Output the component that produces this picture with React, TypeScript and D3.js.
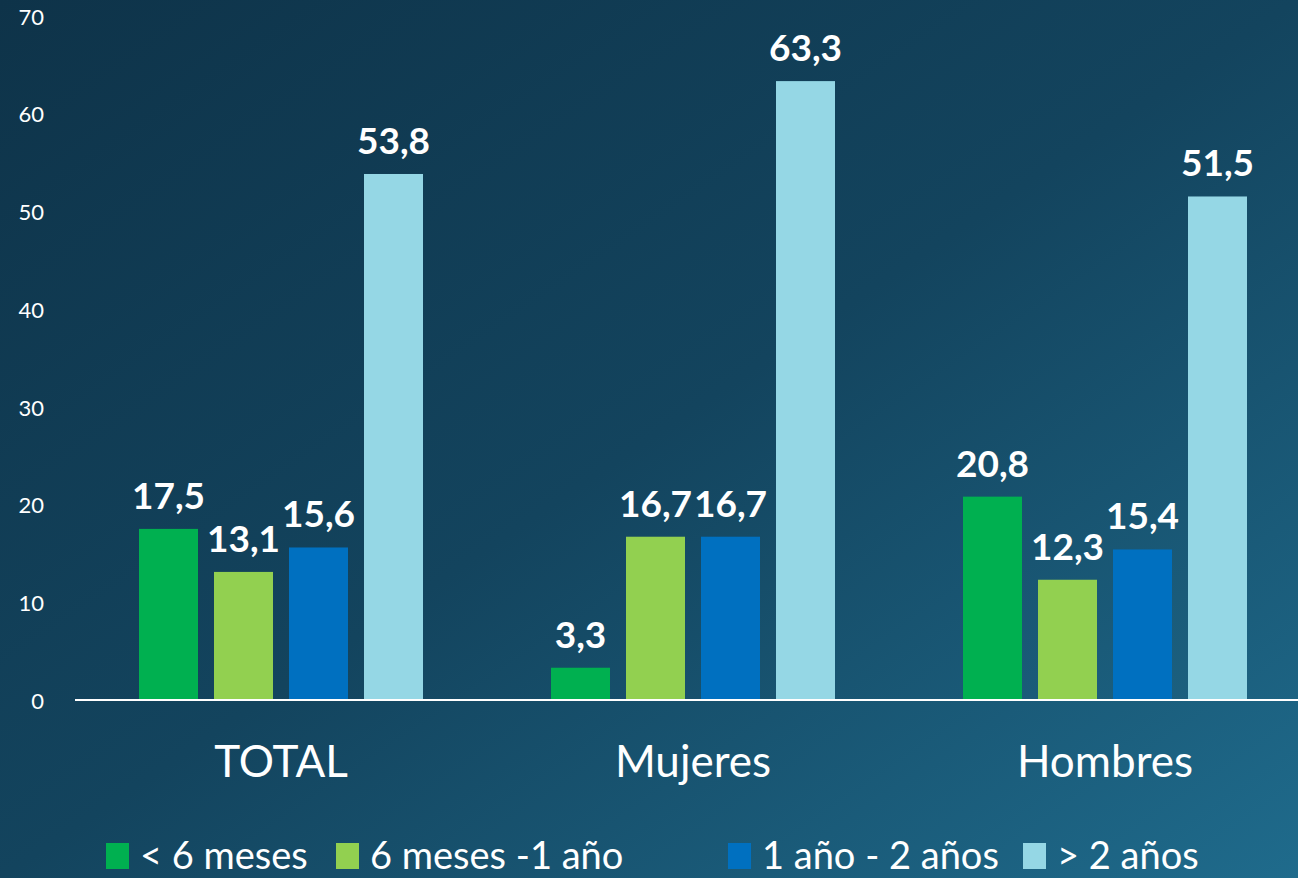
import React from "react";
import * as d3 from "d3";

const categories = ["TOTAL", "Mujeres", "Hombres"];
const seriesNames = ["< 6 meses", "6 meses -1 año", "1 año - 2 años", "> 2 años"];
const seriesColors = ["#00b050", "#92d050", "#0070c0", "#95d7e5"];
const lessThan6 = [17.5, 3.3, 20.8];
const sixTo12 = [13.1, 16.7, 12.3];
const oneToTwo = [15.6, 16.7, 15.4];
const moreThan2 = [53.8, 63.3, 51.5];
const yTicks = [0, 10, 20, 30, 40, 50, 60, 70];

const W = 1298;
const H = 878;
const FONT = "Lato, 'Open Sans', sans-serif";

export default function App() {
  const series = [lessThan6, sixTo12, oneToTwo, moreThan2];
  const x0 = d3.scaleBand<string>().domain(categories).range([75, 1311]).paddingInner(0).paddingOuter(0);
  const inner = 284;
  const x1 = d3.scaleBand<string>().domain(seriesNames).range([0, inner]).paddingInner(16 / 75).paddingOuter(0);
  const y = d3.scaleLinear().domain([0, 70]).range([700, 15.6]);
  const groupOffset = (x0.bandwidth() - inner) / 2;

  const legendX = [106, 336, 728, 1023];

  return (
    <svg width={W} height={H} style={{ position: "absolute", left: 0, top: 0, display: "block" }}>
      <defs>
        <linearGradient id="bg" x1="0" y1="0" x2="1" y2="1">
          <stop offset="0" stopColor="#0e3349" />
          <stop offset="0.5" stopColor="#13445e" />
          <stop offset="1" stopColor="#1f6b8c" />
        </linearGradient>
      </defs>
      <rect x={0} y={0} width={W} height={H} fill="url(#bg)" />
      {yTicks.map((t) => (
        <text key={t} x={44} y={y(t) + 9} textAnchor="end" fill="#ffffff" fontSize={22} fontFamily={FONT}>
          {t}
        </text>
      ))}
      {categories.map((c, ci) => (
        <g key={c} transform={`translate(${(x0(c) ?? 0) + groupOffset},0)`}>
          {series.map((s, si) => {
            const bx = x1(seriesNames[si]) ?? 0;
            const v = s[ci];
            return (
              <g key={si}>
                <rect x={bx} y={y(v)} width={x1.bandwidth()} height={y(0) - y(v)} fill={seriesColors[si]} />
                <text
                  x={bx + x1.bandwidth() / 2}
                  y={y(v) - 20}
                  textAnchor="middle"
                  fill="#ffffff"
                  fontSize={37}
                  fontWeight="bold"
                  fontFamily={FONT}
                >
                  {v.toFixed(1).replace(".", ",")}
                </text>
              </g>
            );
          })}
        </g>
      ))}
      <line x1={75} x2={W} y1={700} y2={700} stroke="#ffffff" strokeWidth={2} />
      {categories.map((c) => (
        <text
          key={c}
          x={(x0(c) ?? 0) + x0.bandwidth() / 2}
          y={777}
          textAnchor="middle"
          fill="#ffffff"
          fontSize={44}
          fontFamily={FONT}
        >
          {c}
        </text>
      ))}
      {seriesNames.map((n, i) => (
        <g key={n}>
          <rect x={legendX[i]} y={843} width={23} height={26} fill={seriesColors[i]} />
          <text x={legendX[i] + 34} y={869} fill="#ffffff" fontSize={38} fontFamily={FONT}>
            {n}
          </text>
        </g>
      ))}
    </svg>
  );
}
